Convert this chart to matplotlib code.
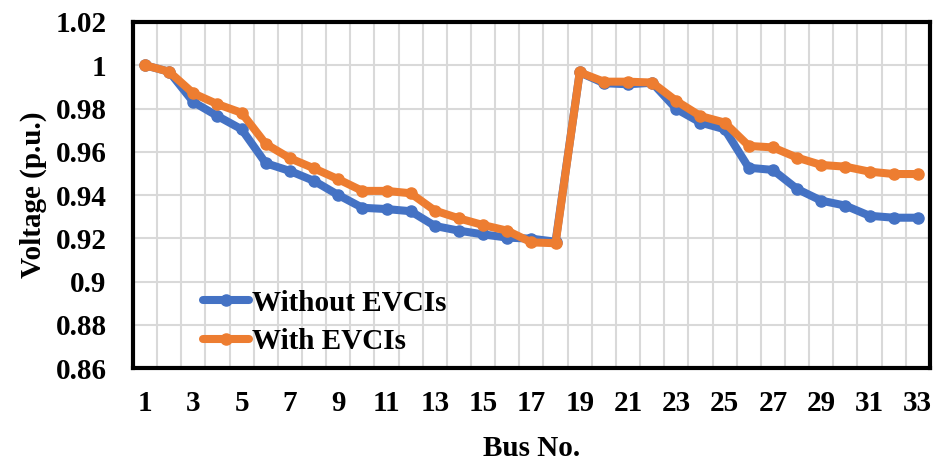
import matplotlib.pyplot as plt
import numpy as np

bus = np.arange(1, 34)
without_evci = [1.0, 0.997, 0.983, 0.9765, 0.9704, 0.9547, 0.9511, 0.9465, 0.940, 0.9341,
                0.9335, 0.9325, 0.9257, 0.9235, 0.9218, 0.9203, 0.9198, 0.9184, 0.9967, 0.9917,
                0.9912, 0.9919, 0.9798, 0.9735, 0.9704, 0.9526, 0.9516, 0.9428, 0.9374, 0.9351,
                0.9304, 0.9295, 0.9295]
with_evci = [1.0, 0.997, 0.987, 0.982, 0.978, 0.9636, 0.957, 0.9523, 0.9473, 0.9419,
             0.9419, 0.9408, 0.9328, 0.9292, 0.9261, 0.9235, 0.9181, 0.9177, 0.9967, 0.9924,
             0.9924, 0.992, 0.9835, 0.9765, 0.9735, 0.9627, 0.962, 0.9573, 0.9539, 0.9531,
             0.9508, 0.9497, 0.9497]
yticks = [0.86, 0.88, 0.9, 0.92, 0.94, 0.96, 0.98, 1, 1.02]
ytick_labels = ['0.86', '0.88', '0.9', '0.92', '0.94', '0.96', '0.98', '1', '1.02']

plt.rcParams['font.family'] = ['Liberation Serif', 'DejaVu Serif']
plt.rcParams['font.weight'] = 'bold'

fig = plt.figure(figsize=(9.45, 4.72), dpi=100)
ax = fig.add_axes([0.1407, 0.2203, 0.8433, 0.7331])

ax.plot(bus, without_evci, color='#4472C4', lw=5.8, marker='o', ms=8,
        solid_joinstyle='round', solid_capstyle='round', label='Without EVCIs', zorder=3)
ax.plot(bus, with_evci, color='#ED7D31', lw=5.8, marker='o', ms=8,
        solid_joinstyle='round', solid_capstyle='round', label='With EVCIs', zorder=4)

ax.set_xlim(0.5, 33.5)
ax.set_ylim(0.86, 1.02)
ax.set_xticks(np.arange(1, 34, 2))
ax.set_xticks(np.arange(1.5, 33, 1), minor=True)
ax.set_yticks(yticks)
ax.set_yticklabels(ytick_labels)
ax.tick_params(which='both', length=0)
ax.tick_params(axis='x', pad=16, labelsize=21)
ax.tick_params(axis='y', pad=19, labelsize=21)

ax.grid(axis='y', which='major', color='#d9d9d9', lw=1.5)
ax.grid(axis='x', which='minor', color='#d9d9d9', lw=1.5)
ax.set_axisbelow(True)

for s in ax.spines.values():
    s.set_linewidth(3)
    s.set_color('black')

ax.set_xlabel('Bus No.', fontsize=21, fontweight='bold', labelpad=13)
ax.set_ylabel('Voltage (p.u.)', fontsize=21, fontweight='bold', labelpad=6)

ax.legend(loc='lower left', bbox_to_anchor=(0.073, 0.003), frameon=False,
          fontsize=21, handlelength=1.6, handletextpad=0.1, labelspacing=0.4,
          borderaxespad=0)

fig.savefig('out.png', dpi=100)
